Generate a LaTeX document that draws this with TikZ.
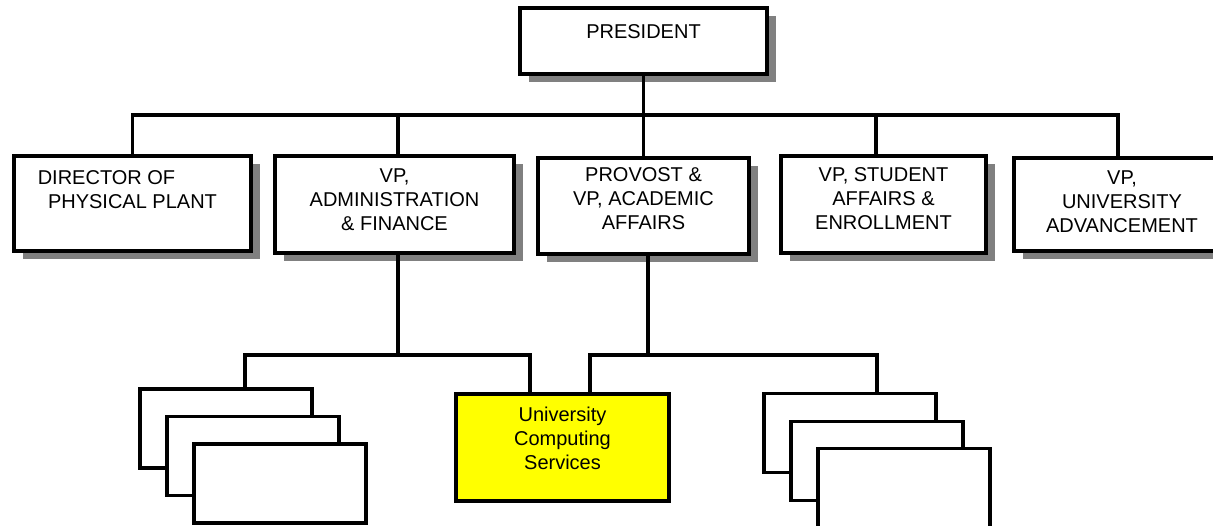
\documentclass[tikz,border=0pt]{standalone}
\usepackage{fontspec}
\setmainfont{Liberation Sans}
\usepackage{tikz}
\usetikzlibrary{shadows}
\definecolor{shgray}{rgb}{0.5,0.5,0.5}
\definecolor{ucsyellow}{rgb}{1,1,0}

\begin{document}
\begin{tikzpicture}[x=1pt,y=-1pt]
\tikzstyle{unit}=[rectangle, line width=3.3pt, draw=black, fill=white, general shadow={shadow xshift=9pt,shadow yshift=-8pt,fill=shgray}]
\tikzstyle{unitu}=[rectangle, line width=3.3pt, draw=black, fill=ucsyellow]
\tikzstyle{stack}=[rectangle, line width=3.3pt, draw=black, fill=white, minimum width=172, minimum height=79]
\tikzstyle{inlbl}=[anchor=north, align=center, inner sep=0pt, yshift=-14pt, font=\fontsize{20}{24}\selectfont]
\tikzstyle{connect}=[line width=3.3pt]

\useasboundingbox (0,0) rectangle (1213,526);
\clip (0,0) rectangle (1213,526);

	\node[unit, minimum width=247, minimum height=66] (pres) at (643.5,41) [label={[inlbl,yshift=-4pt]north:PRESIDENT}]{};

	\node[unit, minimum width=237, minimum height=95] (dir) at (132.5,203.5) [label={[inlbl,yshift=-2pt]north:{DIRECTOR OF\hspace{52pt}\mbox{}\\PHYSICAL PLANT}}]{};
	\node[unit, minimum width=239, minimum height=97] (adm) at (394.5,204.5) [label={[inlbl]north:{VP,\\ADMINISTRATION\\\& FINANCE}}]{};
	\node[unit, minimum width=211, minimum height=96] (prov) at (643.5,206) [label={[inlbl,yshift=3pt]north:{PROVOST \&\\VP, ACADEMIC\\AFFAIRS}}]{};
	\node[unit, minimum width=205, minimum height=97] (stud) at (883.5,204.5) [label={[inlbl,yshift=1pt]north:{VP, STUDENT\\AFFAIRS \&\\ENROLLMENT}}]{};
	\node[unit, minimum width=216, minimum height=93] (ua) at (1122,204.5) [label={[inlbl]north:{VP,\\UNIVERSITY\\ADVANCEMENT}}]{};

	\node[stack] (la1) at (226,428.5) {};
	\node[stack] (la2) at (253,456) {};
	\node[stack] (la3) at (280,483.5) {};

	\node[unitu, minimum width=213, minimum height=107] (ucs) at (562.5,447.5) [label={[inlbl]north:{University\\Computing\\Services}}]{};

	\node[stack] (ra1) at (850,433) {};
	\node[stack] (ra2) at (877,461) {};
	\node[stack] (ra3) at (904,488) {};

	\coordinate (topbus) at (0,115);
	\coordinate (lowbus) at (0,355);
	\coordinate (admN) at ([xshift=3.5pt]adm.north);
	\coordinate (studN) at ([xshift=-7.5pt]stud.north);
	\coordinate (uaN) at ([xshift=-4pt]ua.north);
	\coordinate (admS) at ([xshift=3.5pt]adm.south);
	\coordinate (provS) at ([xshift=4.5pt]prov.south);
	\coordinate (la1N) at ([xshift=19pt]la1.north);
	\coordinate (ucsNl) at ([xshift=-32.5pt]ucs.north);
	\coordinate (ucsNr) at ([xshift=27.5pt]ucs.north);
	\coordinate (ra1N) at ([xshift=27pt]ra1.north);

	\draw[connect] (dir.north) |- (uaN |- topbus) -- (uaN);
	\path[connect]
		(pres.south) edge [] (pres.south |- topbus)
		(admN) edge [] (admN |- topbus)
		(prov.north) edge [] (prov.north |- topbus)
		(studN) edge [] (studN |- topbus);

	\draw[connect] (la1N) |- (ucsNl |- lowbus) -- (ucsNl);
	\draw[connect] (ucsNr) |- (ra1N |- lowbus) -- (ra1N);
	\path[connect]
		(admS) edge [] (admS |- lowbus)
		(provS) edge [] (provS |- lowbus);

\end{tikzpicture}
\end{document}
